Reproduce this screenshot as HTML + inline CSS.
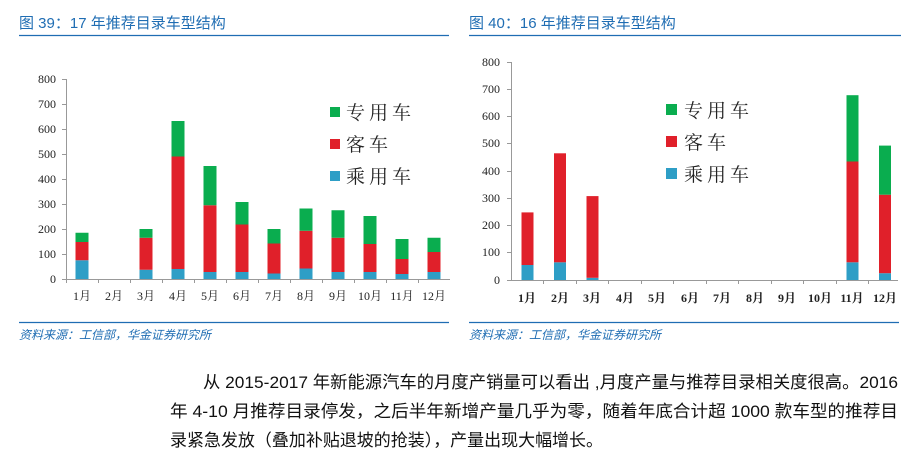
<!DOCTYPE html>
<html><head><meta charset="utf-8"><style>
body{margin:0;background:#fff;}
svg{display:block;}
.t{font-family:"Liberation Sans","Noto Sans CJK SC",sans-serif;fill:#1f6db3;font-size:15px;}
.ax{font-family:"Liberation Serif","Noto Serif CJK SC",serif;font-size:12px;fill:#222;}
.lg{font-family:"Liberation Serif","Noto Serif CJK SC",serif;font-size:19px;fill:#222;letter-spacing:4px;}
.src{font-family:"Liberation Sans","Noto Sans CJK SC",sans-serif;font-size:12px;fill:#1f6db3;font-style:italic;}
.p{font-family:"Liberation Sans","Noto Sans CJK SC",sans-serif;font-size:17px;fill:#111;}
</style></head><body>
<svg width="914" height="471" viewBox="0 0 914 471" xmlns="http://www.w3.org/2000/svg">
<text class="t" x="19" y="28">图 39：17 年推荐目录车型结构</text>
<line x1="19" y1="35.5" x2="449" y2="35.5" stroke="#1f6db3" stroke-width="1.2"/>
<text class="t" x="469" y="28">图 40：16 年推荐目录车型结构</text>
<line x1="469" y1="35.5" x2="901" y2="35.5" stroke="#1f6db3" stroke-width="1.2"/>

<g stroke="#999" stroke-width="1">
<line x1="66.5" y1="79" x2="66.5" y2="279"/>
<line x1="66" y1="279.5" x2="450" y2="279.5"/>
<line x1="62" y1="79.5" x2="66" y2="79.5"/><line x1="62" y1="104.5" x2="66" y2="104.5"/>
<line x1="62" y1="129.5" x2="66" y2="129.5"/><line x1="62" y1="154.5" x2="66" y2="154.5"/>
<line x1="62" y1="179.5" x2="66" y2="179.5"/><line x1="62" y1="204.5" x2="66" y2="204.5"/>
<line x1="62" y1="229.5" x2="66" y2="229.5"/><line x1="62" y1="254.5" x2="66" y2="254.5"/>
<line x1="62" y1="279.5" x2="66" y2="279.5"/>
<line x1="98.5" y1="279" x2="98.5" y2="283"/><line x1="130.5" y1="279" x2="130.5" y2="283"/>
<line x1="162.5" y1="279" x2="162.5" y2="283"/><line x1="194.5" y1="279" x2="194.5" y2="283"/>
<line x1="226.5" y1="279" x2="226.5" y2="283"/><line x1="258.5" y1="279" x2="258.5" y2="283"/>
<line x1="290.5" y1="279" x2="290.5" y2="283"/><line x1="322.5" y1="279" x2="322.5" y2="283"/>
<line x1="354.5" y1="279" x2="354.5" y2="283"/><line x1="386.5" y1="279" x2="386.5" y2="283"/>
<line x1="418.5" y1="279" x2="418.5" y2="283"/><line x1="66.5" y1="279" x2="66.5" y2="283"/>
</g>
<g class="ax" text-anchor="end">
<text x="56" y="83">800</text><text x="56" y="108">700</text><text x="56" y="133">600</text>
<text x="56" y="158">500</text><text x="56" y="183">400</text><text x="56" y="208">300</text>
<text x="56" y="233">200</text><text x="56" y="258">100</text><text x="56" y="283">0</text>
</g>
<g class="ax" text-anchor="middle">
<text x="82" y="300">1月</text><text x="114" y="300">2月</text><text x="146" y="300">3月</text>
<text x="178" y="300">4月</text><text x="210" y="300">5月</text><text x="242" y="300">6月</text>
<text x="274" y="300">7月</text><text x="306" y="300">8月</text><text x="338" y="300">9月</text>
<text x="370" y="300">10月</text><text x="402" y="300">11月</text><text x="434" y="300">12月</text>
</g>
<g>
<rect x="75.5" y="260.25" width="13" height="18.75" fill="#2e9ec6"/><rect x="75.5" y="242" width="13" height="18.25" fill="#e0202a"/><rect x="75.5" y="232.75" width="13" height="9.25" fill="#0aad4f"/>
<rect x="139.5" y="269.75" width="13" height="9.25" fill="#2e9ec6"/><rect x="139.5" y="237.75" width="13" height="32" fill="#e0202a"/><rect x="139.5" y="229" width="13" height="8.75" fill="#0aad4f"/>
<rect x="171.5" y="269" width="13" height="10" fill="#2e9ec6"/><rect x="171.5" y="156.5" width="13" height="112.5" fill="#e0202a"/><rect x="171.5" y="121" width="13" height="35.5" fill="#0aad4f"/>
<rect x="203.5" y="272" width="13" height="7" fill="#2e9ec6"/><rect x="203.5" y="205.25" width="13" height="66.75" fill="#e0202a"/><rect x="203.5" y="166" width="13" height="39.25" fill="#0aad4f"/>
<rect x="235.5" y="272" width="13" height="7" fill="#2e9ec6"/><rect x="235.5" y="224.5" width="13" height="47.5" fill="#e0202a"/><rect x="235.5" y="202" width="13" height="22.5" fill="#0aad4f"/>
<rect x="267.5" y="273.5" width="13" height="5.5" fill="#2e9ec6"/><rect x="267.5" y="243.5" width="13" height="30" fill="#e0202a"/><rect x="267.5" y="229" width="13" height="14.5" fill="#0aad4f"/>
<rect x="299.5" y="268.5" width="13" height="10.5" fill="#2e9ec6"/><rect x="299.5" y="230.75" width="13" height="37.75" fill="#e0202a"/><rect x="299.5" y="208.5" width="13" height="22.25" fill="#0aad4f"/>
<rect x="331.5" y="272" width="13" height="7" fill="#2e9ec6"/><rect x="331.5" y="237.75" width="13" height="34.25" fill="#e0202a"/><rect x="331.5" y="210.25" width="13" height="27.5" fill="#0aad4f"/>
<rect x="363.5" y="272" width="13" height="7" fill="#2e9ec6"/><rect x="363.5" y="244" width="13" height="28" fill="#e0202a"/><rect x="363.5" y="216" width="13" height="28" fill="#0aad4f"/>
<rect x="395.5" y="274" width="13" height="5" fill="#2e9ec6"/><rect x="395.5" y="259" width="13" height="15" fill="#e0202a"/><rect x="395.5" y="239" width="13" height="20" fill="#0aad4f"/>
<rect x="427.5" y="272" width="13" height="7" fill="#2e9ec6"/><rect x="427.5" y="252" width="13" height="20" fill="#e0202a"/><rect x="427.5" y="237.75" width="13" height="14.25" fill="#0aad4f"/>
</g>
<rect x="330" y="107" width="10" height="10" fill="#0aad4f"/><text class="lg" x="346" y="119">专用车</text>
<rect x="330" y="139" width="10" height="10" fill="#e0202a"/><text class="lg" x="346" y="151">客车</text>
<rect x="330" y="171" width="10" height="10" fill="#2e9ec6"/><text class="lg" x="346" y="183">乘用车</text>

<g stroke="#999" stroke-width="1">
<line x1="511.5" y1="62" x2="511.5" y2="280"/>
<line x1="511" y1="280.5" x2="898" y2="280.5"/>
<line x1="507" y1="62.5" x2="511" y2="62.5"/><line x1="507" y1="89.5" x2="511" y2="89.5"/>
<line x1="507" y1="116.5" x2="511" y2="116.5"/><line x1="507" y1="143.5" x2="511" y2="143.5"/>
<line x1="507" y1="171.5" x2="511" y2="171.5"/><line x1="507" y1="198.5" x2="511" y2="198.5"/>
<line x1="507" y1="225.5" x2="511" y2="225.5"/><line x1="507" y1="252.5" x2="511" y2="252.5"/>
<line x1="507" y1="280.5" x2="511" y2="280.5"/>
<line x1="543.5" y1="280" x2="543.5" y2="284"/><line x1="576.5" y1="280" x2="576.5" y2="284"/>
<line x1="608.5" y1="280" x2="608.5" y2="284"/><line x1="641.5" y1="280" x2="641.5" y2="284"/>
<line x1="673.5" y1="280" x2="673.5" y2="284"/><line x1="706.5" y1="280" x2="706.5" y2="284"/>
<line x1="738.5" y1="280" x2="738.5" y2="284"/><line x1="771.5" y1="280" x2="771.5" y2="284"/>
<line x1="803.5" y1="280" x2="803.5" y2="284"/><line x1="836.5" y1="280" x2="836.5" y2="284"/>
<line x1="868.5" y1="280" x2="868.5" y2="284"/>
</g>
<g class="ax" text-anchor="end">
<text x="500" y="66">800</text><text x="500" y="93">700</text><text x="500" y="120">600</text>
<text x="500" y="147">500</text><text x="500" y="175">400</text><text x="500" y="202">300</text>
<text x="500" y="229">200</text><text x="500" y="256">100</text><text x="500" y="284">0</text>
</g>
<g class="ax" text-anchor="middle" font-weight="bold">
<text x="527" y="302">1月</text><text x="560" y="302">2月</text><text x="592" y="302">3月</text>
<text x="625" y="302">4月</text><text x="657" y="302">5月</text><text x="690" y="302">6月</text>
<text x="722" y="302">7月</text><text x="755" y="302">8月</text><text x="787" y="302">9月</text>
<text x="820" y="302">10月</text><text x="852" y="302">11月</text><text x="885" y="302">12月</text>
</g>
<g>
<rect x="521.5" y="265" width="12" height="15" fill="#2e9ec6"/><rect x="521.5" y="212.4" width="12" height="52.6" fill="#e0202a"/>
<rect x="554" y="262.3" width="12" height="17.7" fill="#2e9ec6"/><rect x="554" y="153.3" width="12" height="109" fill="#e0202a"/>
<rect x="586.5" y="277.8" width="12" height="2.2" fill="#2e9ec6"/><rect x="586.5" y="196.1" width="12" height="81.7" fill="#e0202a"/>
<rect x="846.5" y="262.3" width="12" height="17.7" fill="#2e9ec6"/><rect x="846.5" y="161.5" width="12" height="100.8" fill="#e0202a"/><rect x="846.5" y="95.2" width="12" height="66.3" fill="#0aad4f"/>
<rect x="879" y="273.2" width="12" height="6.8" fill="#2e9ec6"/><rect x="879" y="194.7" width="12" height="78.5" fill="#e0202a"/><rect x="879" y="145.6" width="12" height="49.1" fill="#0aad4f"/>
</g>
<rect x="666" y="104" width="11" height="11" fill="#0aad4f"/><text class="lg" x="684" y="117">专用车</text>
<rect x="666" y="136" width="11" height="11" fill="#e0202a"/><text class="lg" x="684" y="149">客车</text>
<rect x="666" y="168" width="11" height="11" fill="#2e9ec6"/><text class="lg" x="684" y="181">乘用车</text>

<line x1="19" y1="322.5" x2="449" y2="322.5" stroke="#1f6db3" stroke-width="1.2"/>
<text class="src" x="19" y="339">资料来源：工信部，华金证券研究所</text>
<line x1="469" y1="322.5" x2="899" y2="322.5" stroke="#1f6db3" stroke-width="1.2"/>
<text class="src" x="469" y="339">资料来源：工信部，华金证券研究所</text>

<text class="p" x="203" y="388" textLength="695" lengthAdjust="spacingAndGlyphs">从 2015-2017 年新能源汽车的月度产销量可以看出 ,月度产量与推荐目录相关度很高。2016</text>
<text class="p" x="170" y="417" textLength="728" lengthAdjust="spacingAndGlyphs">年 4-10 月推荐目录停发，之后半年新增产量几乎为零，随着年底合计超 1000 款车型的推荐目</text>
<text class="p" x="170" y="446" textLength="433" lengthAdjust="spacingAndGlyphs">录紧急发放（叠加补贴退坡的抢装），产量出现大幅增长。</text>
</svg>
</body></html>
